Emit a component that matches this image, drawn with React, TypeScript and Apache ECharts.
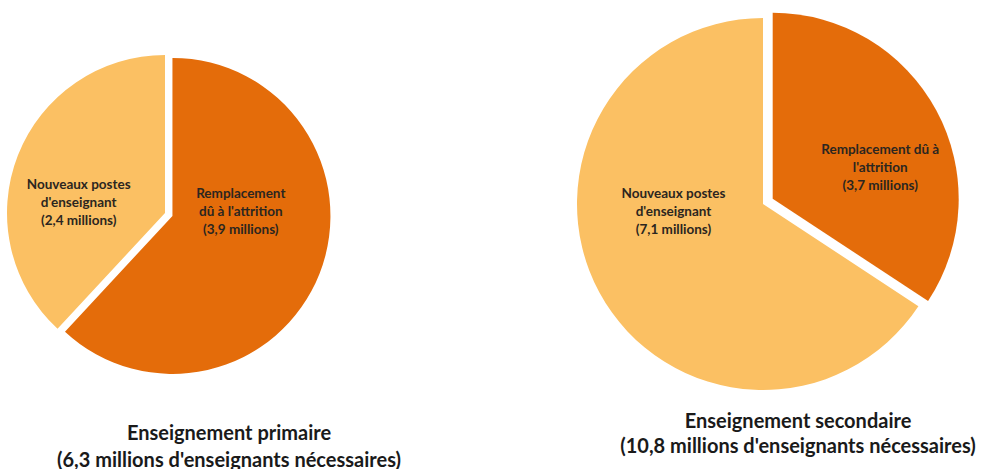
import React, { useEffect, useRef } from "react";
import * as echarts from "echarts";

const primaryCategories = ["Remplacement\ndû à l'attrition", "Nouveaux postes\nd'enseignant"];
const primaryValues = [3.9, 2.4];
const secondaryCategories = ["Remplacement dû à\nl'attrition", "Nouveaux postes\nd'enseignant"];
const secondaryValues = [3.7, 7.1];
const chartTitles = [
  "Enseignement primaire\n(6,3 millions d'enseignants nécessaires)",
  "Enseignement secondaire\n(10,8 millions d'enseignants nécessaires)",
];

const ORANGE = "#E46C0A";
const LIGHT = "#FBC063";
const FONT = "Lato, 'Liberation Sans', sans-serif";

const fmt = (v: number) => v.toFixed(1).replace(".", ",");

export default function App() {
  const ref = useRef<HTMLDivElement>(null);
  useEffect(() => {
    if (!ref.current) return;
    const chart = echarts.init(ref.current, undefined, { renderer: "svg" });
    const makeData = (cats: string[], vals: number[]) =>
      cats.map((c, i) => ({
        name: c,
        value: vals[i],
        selected: i === 0,
        itemStyle: { color: i === 0 ? ORANGE : LIGHT },
      }));
    const labelBase = {
      show: true,
      position: "inside",
      formatter: (p: any) => `${p.name}\n(${fmt(p.value)} millions)`,
      color: "#2b2620",
      fontFamily: FONT,
      fontWeight: "bold",
      fontSize: 13.5,
      lineHeight: 18,
      align: "center",
    };
    chart.setOption({
      animation: false,
      backgroundColor: "#ffffff",
      title: [
        {
          text: chartTitles[0],
          left: 229,
          top: 418,
          padding: 0,
          textAlign: "center",
          textStyle: { fontFamily: FONT, fontWeight: "bold", fontSize: 20, lineHeight: 27, color: "#1a1a1a", align: "center" },
        },
        {
          text: chartTitles[1],
          left: 798,
          top: 407,
          padding: 0,
          textAlign: "center",
          textStyle: { fontFamily: FONT, fontWeight: "bold", fontSize: 20, lineHeight: 25, color: "#1a1a1a", align: "center" },
        },
      ],
      series: [
        {
          type: "pie",
          center: [165, 213],
          radius: 158,
          startAngle: 90,
          clockwise: true,
          selectedMode: "single",
          selectedOffset: 8,
          emphasis: { disabled: true },
          label: labelBase,
          labelLine: { show: false },
          labelLayout: (p: any) => (p.dataIndex === 0 ? { dx: -8, dy: -35 } : { dx: -10, dy: 19 }),
          data: makeData(primaryCategories, primaryValues),
        },
        {
          type: "pie",
          center: [763, 204],
          radius: 186,
          startAngle: 90,
          clockwise: true,
          selectedMode: "single",
          selectedOffset: 11,
          emphasis: { disabled: true },
          label: labelBase,
          labelLine: { show: false },
          labelLayout: (p: any) => (p.dataIndex === 0 ? { dx: 23, dy: 14 } : { dx: -5, dy: -39 }),
          data: makeData(secondaryCategories, secondaryValues),
        },
      ],
    });
    return () => chart.dispose();
  }, []);
  return (
    <div
      ref={ref}
      style={{ position: "absolute", left: 0, top: 0, width: 988, height: 469 }}
    />
  );
}
